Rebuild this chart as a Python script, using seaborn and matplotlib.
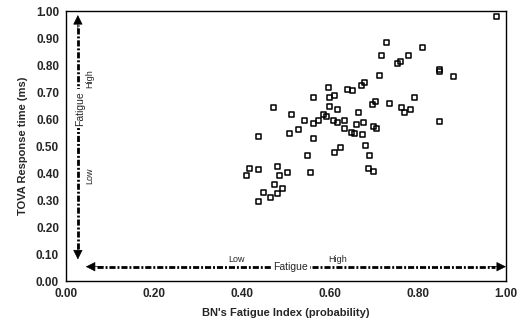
import numpy as np
import pandas as pd
import matplotlib
matplotlib.use("Agg")
import matplotlib.pyplot as plt
import seaborn as sns

# BN's fatigue index (x) vs TOVA response time (y)
fatigue_index = [
    0.979, 0.729, 0.810, 0.718, 0.779, 0.753, 0.761, 0.848, 0.850, 0.880,
    0.712, 0.672, 0.679, 0.596, 0.640, 0.652, 0.562, 0.600, 0.610, 0.793,
    0.704, 0.697, 0.736, 0.762, 0.770, 0.782, 0.471, 0.600, 0.617, 0.512,
    0.665, 0.585, 0.591, 0.542, 0.574, 0.562, 0.607, 0.617, 0.632, 0.676,
    0.661, 0.632, 0.700, 0.705, 0.848, 0.509, 0.528, 0.649, 0.655, 0.673,
    0.437, 0.562, 0.680, 0.611, 0.623, 0.549, 0.689, 0.418, 0.437, 0.411,
    0.480, 0.485, 0.503, 0.555, 0.687, 0.698, 0.473, 0.492, 0.448, 0.480,
    0.465, 0.437,
]
response_time = [
    0.980, 0.884, 0.865, 0.836, 0.836, 0.807, 0.814, 0.784, 0.775, 0.759,
    0.762, 0.725, 0.735, 0.716, 0.710, 0.704, 0.678, 0.678, 0.688, 0.678,
    0.665, 0.655, 0.658, 0.641, 0.623, 0.636, 0.644, 0.646, 0.636, 0.618,
    0.623, 0.616, 0.611, 0.596, 0.596, 0.584, 0.596, 0.586, 0.596, 0.588,
    0.579, 0.566, 0.574, 0.566, 0.591, 0.546, 0.561, 0.551, 0.546, 0.544,
    0.536, 0.529, 0.502, 0.477, 0.494, 0.465, 0.465, 0.416, 0.413, 0.390,
    0.423, 0.390, 0.403, 0.403, 0.415, 0.404, 0.357, 0.341, 0.326, 0.323,
    0.311, 0.295,
]

x_ticks = [0.0, 0.2, 0.4, 0.6, 0.8, 1.0]
y_ticks = [0.0, 0.1, 0.2, 0.3, 0.4, 0.5, 0.6, 0.7, 0.8, 0.9, 1.0]

df = pd.DataFrame({"fatigue": fatigue_index, "tova": response_time})

sns.set_style("white")
plt.rcParams["font.family"] = ["Liberation Sans", "DejaVu Sans"]

fig = plt.figure(figsize=(5.25, 3.24), dpi=100)
ax = fig.add_axes([0.1257, 0.1327, 0.8381, 0.8333])

sns.scatterplot(data=df, x="fatigue", y="tova", ax=ax, marker="s", s=13,
                facecolor="none", edgecolor="black", linewidth=1.1, legend=False)

ax.set_xlim(0, 1)
ax.set_ylim(0, 1)
ax.set_xticks(x_ticks)
ax.set_yticks(y_ticks)
ax.set_xticklabels([f"{t:.2f}" for t in x_ticks], fontsize=8.5, fontweight="bold")
ax.set_yticklabels([f"{t:.2f}" for t in y_ticks], fontsize=8.5, fontweight="bold")
ax.tick_params(direction="in", length=2, width=0.8, pad=5)
for sp in ax.spines.values():
    sp.set_color("black")
    sp.set_linewidth(1.0)

ax.set_xlabel("BN's Fatigue Index (probability)", fontsize=8, fontweight="bold", labelpad=6)
ax.set_ylabel("TOVA Response time (ms)", fontsize=8, fontweight="bold", labelpad=6)

# fatigue direction arrows: dash-dot shafts plus solid heads
dash = (0, (2.2, 0.7, 0.7, 0.7))
ax.plot([0.027, 0.027], [0.12, 0.95], color="black", lw=2.0, linestyle=dash)
ax.plot([0.07, 0.975], [0.053, 0.053], color="black", lw=2.0, linestyle=dash)
head = dict(arrowstyle="-|>", color="black", lw=0.5, mutation_scale=15,
            shrinkA=0, shrinkB=0)
ax.annotate("", xy=(0.027, 0.985), xytext=(0.027, 0.93), arrowprops=head)
ax.annotate("", xy=(0.027, 0.08), xytext=(0.027, 0.135), arrowprops=head)
ax.annotate("", xy=(1.0, 0.053), xytext=(0.96, 0.053), arrowprops=head)
ax.annotate("", xy=(0.045, 0.053), xytext=(0.085, 0.053), arrowprops=head)

white = dict(facecolor="white", edgecolor="none", pad=1.5)
ax.text(0.031, 0.64, "Fatigue", rotation=90, ha="center", va="center",
        fontsize=7.5, bbox=white)
ax.text(0.055, 0.75, "High", rotation=90, ha="center", va="center", fontsize=6.5)
ax.text(0.055, 0.39, "Low", rotation=90, ha="center", va="center", fontsize=6.5)
ax.text(0.51, 0.053, "Fatigue", ha="center", va="center", fontsize=7.5, bbox=white)
ax.text(0.388, 0.078, "Low", ha="center", va="center", fontsize=6.5)
ax.text(0.618, 0.078, "High", ha="center", va="center", fontsize=6.5)

fig.savefig("out.png", dpi=100)
